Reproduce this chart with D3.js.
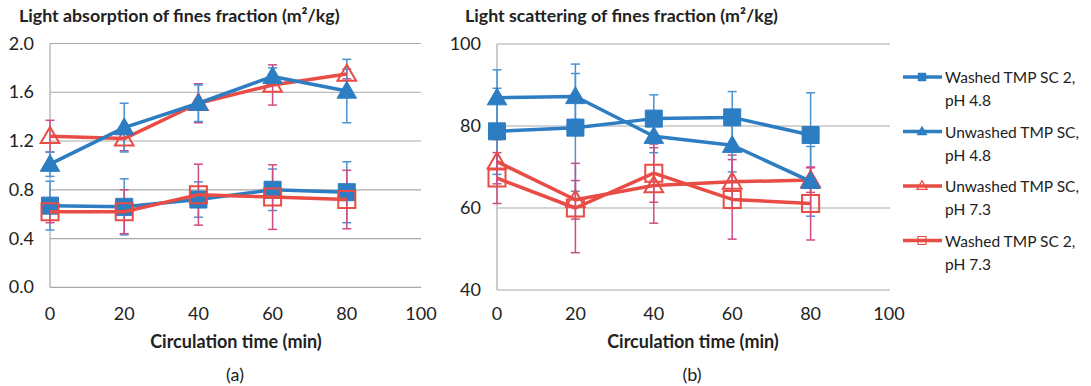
<!DOCTYPE html>
<html>
<head>
<meta charset="utf-8">
<script src="https://cdn.jsdelivr.net/npm/d3@7"></script>
<style>
  body { margin: 0; background: #fff; }
  text { font-family: Lato, "Open Sans", sans-serif; fill: #222; }
</style>
</head>
<body>
<svg id="chart" width="1091" height="386"></svg>
<script>
// Circulation time points (min) and axis ticks
const times = [0, 20, 40, 60, 80];
const xTicks = [0, 20, 40, 60, 80, 100];
const absTicks = [0.0, 0.4, 0.8, 1.2, 1.6, 2.0];
const scatTicks = [40, 60, 80, 100];

// Series labels (legend, two lines each)
const labelWashed48 = ["Washed TMP SC 2,", "pH 4.8"];
const labelUnwashed48 = ["Unwashed TMP SC,", "pH 4.8"];
const labelUnwashed73 = ["Unwashed TMP SC,", "pH 7.3"];
const labelWashed73 = ["Washed TMP SC 2,", "pH 7.3"];

// Light absorption of fines fraction (m2/kg): means and ± error
const absWashed48 = [0.67, 0.66, 0.72, 0.80, 0.78];
const absWashed48Err = [0.20, 0.23, 0.145, 0.17, 0.25];
const absUnwashed48 = [1.01, 1.31, 1.51, 1.73, 1.61];
const absUnwashed48Err = [0.10, 0.20, 0.15, 0.07, 0.26];
const absUnwashed73 = [1.24, 1.22, 1.51, 1.66, 1.75];
const absUnwashed73Err = [0.13, 0.10, 0.16, 0.165, 0.04];
const absWashed73 = [0.62, 0.62, 0.76, 0.74, 0.72];
const absWashed73Err = [0.09, 0.18, 0.25, 0.265, 0.24];

// Light scattering of fines fraction (m2/kg): means and ± error
const scatWashed48 = [78.7, 79.6, 81.8, 82.1, 77.8];
const scatWashed48Err = [10.5, 15.5, 5.8, 6.3, 10.3];
const scatUnwashed48 = [86.9, 87.2, 77.5, 75.3, 66.5];
const scatUnwashed48Err = [6.8, 5.6, 4.0, 6.5, 8.5];
const scatUnwashed73 = [71.3, 62.0, 65.5, 66.4, 66.8];
const scatUnwashed73Err = [5.4, 4.7, 9.2, 6.5, 3.0];
const scatWashed73 = [67.3, 60.0, 68.5, 62.1, 61.1];
const scatWashed73Err = [6.2, 10.9, 7.1, 9.7, 8.9];

const BLUE = "#2D7DC3";
const BLUE_ERR = "#4A93D3";
const RED = "#E84C45";
const RED_ERR = "#CC4D85";
const GRID = "#A9A9A9";

// Series styles: marker shape + fill
const styles = {
  washed48:   { color: BLUE, err: BLUE_ERR, shape: "square",   filled: true },
  unwashed48: { color: BLUE, err: BLUE_ERR, shape: "triangle", filled: true },
  unwashed73: { color: RED,  err: RED_ERR,  shape: "triangle", filled: false },
  washed73:   { color: RED,  err: RED_ERR,  shape: "square",   filled: false }
};

const svg = d3.select("#chart");

function markerPath(shape, size) {
  const t = shape === "square" ? d3.symbolSquare : d3.symbolTriangle;
  return d3.symbol().type(t).size(size)();
}

function drawPanel(cfg) {
  const x = d3.scaleLinear().domain([0, 100]).range(cfg.xRange);
  const y = d3.scaleLinear().domain(cfg.yDomain).range(cfg.yRange);
  const g = svg.append("g");

  // horizontal gridlines
  g.append("g").selectAll("line").data(cfg.yTicks).join("line")
    .attr("x1", cfg.xRange[0]).attr("x2", cfg.gridEnd)
    .attr("y1", d => y(d)).attr("y2", d => y(d))
    .attr("stroke", GRID).attr("stroke-width", 1.2);
  // vertical axis line
  g.append("line")
    .attr("x1", cfg.xRange[0]).attr("x2", cfg.xRange[0])
    .attr("y1", cfg.yRange[0]).attr("y2", cfg.yRange[1])
    .attr("stroke", GRID).attr("stroke-width", 1.2);

  // y tick labels
  g.append("g").selectAll("text").data(cfg.yTicks).join("text")
    .attr("x", cfg.xRange[0] - 16).attr("y", d => y(d) + 6)
    .attr("text-anchor", "end").attr("font-size", 18)
    .text(d => cfg.yFormat(d));
  // x tick labels
  g.append("g").selectAll("text").data(xTicks).join("text")
    .attr("x", d => x(d)).attr("y", 320)
    .attr("text-anchor", "middle").attr("font-size", 18)
    .text(d => d);

  // titles
  g.append("text").attr("x", cfg.titleX).attr("y", 22)
    .attr("font-size", 17.8).attr("font-weight", "bold")
    .text(cfg.title);
  g.append("text").attr("x", cfg.xCenter).attr("y", 348)
    .attr("text-anchor", "middle").attr("font-size", 18).attr("font-weight", "bold")
    .text("Circulation time (min)");
  g.append("text").attr("x", cfg.xCenter - 1).attr("y", 381)
    .attr("text-anchor", "middle").attr("font-size", 18)
    .text(cfg.panelLabel);

  const series = cfg.series;

  // error bars
  series.forEach(s => {
    const st = styles[s.key];
    const eg = g.append("g").attr("stroke", st.err).attr("stroke-width", 1.5);
    const pts = times.map((t, i) => ({ t, v: s.values[i], e: s.errors[i] }));
    eg.selectAll("line.v").data(pts).join("line").attr("class", "v")
      .attr("x1", d => x(d.t)).attr("x2", d => x(d.t))
      .attr("y1", d => y(d.v - d.e)).attr("y2", d => y(d.v + d.e));
    [-1, 1].forEach(sign => {
      eg.selectAll("line.c" + (sign > 0 ? "p" : "m")).data(pts).join("line")
        .attr("class", "c" + (sign > 0 ? "p" : "m"))
        .attr("x1", d => x(d.t) - 4.5).attr("x2", d => x(d.t) + 4.5)
        .attr("y1", d => y(d.v + sign * d.e)).attr("y2", d => y(d.v + sign * d.e));
    });
  });

  // lines and markers
  const line = d3.line().x((d, i) => x(times[i])).y(d => y(d));
  series.forEach(s => {
    const st = styles[s.key];
    g.append("path").datum(s.values)
      .attr("d", line).attr("fill", "none")
      .attr("stroke", st.color).attr("stroke-width", 3.5)
      .attr("stroke-linejoin", "round");
    g.append("g").selectAll("path").data(s.values).join("path")
      .attr("transform", (d, i) => `translate(${x(times[i])},${y(d) + (st.shape === "triangle" ? 1.5 : 0)})`)
      .attr("d", st.shape === "square" ? markerPath("square", st.filled ? 290 : 290)
                                       : markerPath("triangle", st.filled ? 165 : 150))
      .attr("fill", st.filled ? st.color : "none")
      .attr("stroke", st.color).attr("stroke-width", st.filled ? 1 : 2);
  });
}

drawPanel({
  xRange: [50, 421], gridEnd: 421,
  yDomain: [0, 2], yRange: [287.3, 43.5],
  yTicks: absTicks, yFormat: d3.format(".1f"),
  title: "Light absorption of fines fraction (m²/kg)", titleX: 19,
  xCenter: 236, panelLabel: "(a)",
  series: [
    { key: "unwashed73", values: absUnwashed73, errors: absUnwashed73Err },
    { key: "washed48", values: absWashed48, errors: absWashed48Err },
    { key: "unwashed48", values: absUnwashed48, errors: absUnwashed48Err },
    { key: "washed73", values: absWashed73, errors: absWashed73Err }
  ]
});

drawPanel({
  xRange: [497, 889], gridEnd: 890,
  yDomain: [40, 100], yRange: [290, 44],
  yTicks: scatTicks, yFormat: d => d,
  title: "Light scattering of fines fraction (m²/kg)", titleX: 465,
  xCenter: 693, panelLabel: "(b)",
  series: [
    { key: "unwashed73", values: scatUnwashed73, errors: scatUnwashed73Err },
    { key: "washed48", values: scatWashed48, errors: scatWashed48Err },
    { key: "unwashed48", values: scatUnwashed48, errors: scatUnwashed48Err },
    { key: "washed73", values: scatWashed73, errors: scatWashed73Err }
  ]
});

// legend
const legendItems = [
  { key: "washed48", label: labelWashed48 },
  { key: "unwashed48", label: labelUnwashed48 },
  { key: "unwashed73", label: labelUnwashed73 },
  { key: "washed73", label: labelWashed73 }
];
const lg = svg.append("g");
legendItems.forEach((item, i) => {
  const st = styles[item.key];
  const yy = 77 + i * 54.5;
  lg.append("line").attr("x1", 903).attr("x2", 942).attr("y1", yy).attr("y2", yy)
    .attr("stroke", st.color).attr("stroke-width", 3.5);
  lg.append("path")
    .attr("transform", `translate(922,${yy + (st.shape === "triangle" ? 0.5 : 0)})`)
    .attr("d", markerPath(st.shape, st.shape === "square" ? 64 : 45))
    .attr("fill", st.filled ? st.color : "none")
    .attr("stroke", st.color).attr("stroke-width", st.filled ? 0.5 : 1.2);
  item.label.forEach((ln, j) => {
    lg.append("text").attr("x", 945).attr("y", yy + 6 + j * 23)
      .attr("font-size", 15.5).text(ln);
  });
});
</script>
</body>
</html>
